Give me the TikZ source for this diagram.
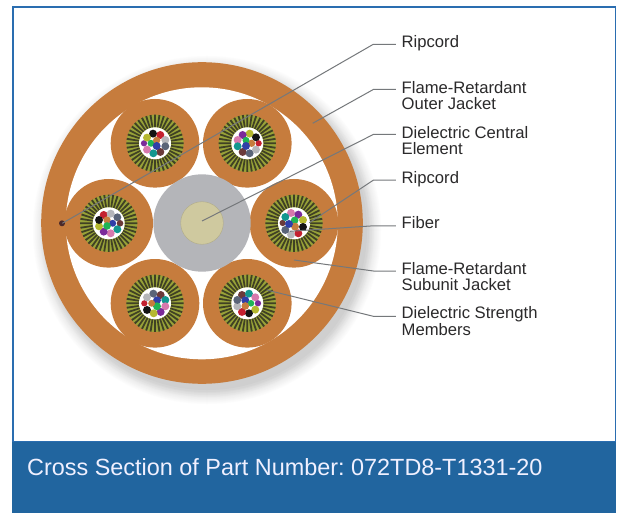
\documentclass[tikz,border=0pt]{standalone}
\usepackage{fontspec}
\setmainfont{Liberation Sans}
\usetikzlibrary{calc}
\definecolor{jacket}{HTML}{C67C3D}
\definecolor{panelblue}{HTML}{21659F}
\definecolor{edgeblue}{HTML}{2A6DB0}
\definecolor{leadergray}{HTML}{75787B}
\definecolor{labelink}{HTML}{2B2A2B}
\definecolor{olive}{HTML}{98A238}
\definecolor{strand}{HTML}{404124}
\definecolor{coregray}{HTML}{B4B5B9}
\definecolor{coretan}{HTML}{CFC99F}
\definecolor{fblack}{HTML}{141414}
\definecolor{fred}{HTML}{C4202F}
\definecolor{fgray}{HTML}{B5B6BA}
\definecolor{fslate}{HTML}{5A6478}
\definecolor{fbrown}{HTML}{6B3A3A}
\definecolor{fteal}{HTML}{12978F}
\definecolor{fpink}{HTML}{D779AD}
\definecolor{fpurple}{HTML}{7B2A9A}
\definecolor{fyellow}{HTML}{B5B82F}
\definecolor{fgreen}{HTML}{1FB455}
\definecolor{forange}{HTML}{C67C3D}
\definecolor{fblue}{HTML}{2F3FA8}
\tikzset{
  leader/.style={draw=leadergray,line width=1bp},
  partlabel/.style={font=\fontsize{16.7}{17}\selectfont,text=labelink,inner sep=0pt,anchor=north west,align=left},
  captionlabel/.style={font=\fontsize{23.5}{26}\selectfont,text=white!94!blue,inner sep=0pt,anchor=base west},
}
\newcommand{\cablesub}[3]{%
  \fill[jacket] (#1,#2) circle (44.3);
  \fill[olive] (#1,#2) circle (28.6);
  \foreach \a in {0,9,...,351}
    \fill[strand] ($(#1,#2)+(\a-1.9:28.6)$) -- ($(#1,#2)+(\a+1.9:28.6)$) -- ($(#1,#2)+(\a+2.9:16)$) -- ($(#1,#2)+(\a-2.9:16)$) -- cycle;
  \fill[white] (#1,#2) circle (16);
  \begin{scope}[shift={(#1,#2)},scale=1/3]
    \foreach \dx/\dy/\c/\r in {#3}
      \fill[\c] (\dx,\dy) circle ({\r+1.4});
  \end{scope}}
\begin{document}
\frenchspacing
\begin{tikzpicture}[x=1bp,y=-1bp]
\useasboundingbox (0,0) rectangle (619,513);
\fill[white] (0,0) rectangle (619,513);
% panel
\draw[edgeblue,line width=1.5bp] (12.8,6.8) rectangle (615.6,442);
\fill[panelblue] (12,441.7) rectangle (616.3,513);
% cable shadow: soft, falling to the lower right
\foreach \r/\g in {174/1,173/2,172/3,171/4,170/5,169/6,168/7,167/9,166/10,165/12,164/13,163/15,162/17,160/19}
  \fill[black!\g] (207,230) circle (\r);
\fill[jacket] (202,223) circle (160.8);
\fill[white] (201.8,223.3) circle (136);
\cablesub{155}{143.3}{-6/-29/fblack/10.5,16/-25/fred/10.5,31/-10/fgray/10.5,31/9/fslate/10.5,16/26/fbrown/10.5,-5/30/fteal/10.5,-24/19/fpink/10.5,-33/0/fpurple/8,-24/-17/fyellow/10.5,-12/0/fgreen/9,5/-9/forange/9.5,5/8/fblue/10.5}
\cablesub{247.3}{143.3}{7/-29/fyellow/10.5,-14/-25/fpurple/10.5,-29/-10/fpink/10.5,-29/9/fteal/10.5,-14/26/fbrown/10.5,7/30/fslate/10.5,26/19/fgray/10.5,34/0/fred/8,26/-18/fblack/10.5,13/0/forange/9.5,-4/-9/fgreen/9,-4/8/fblue/10.5}
\cablesub{108.7}{223.3}{-15/-25/fred/10.5,6/-29/fgray/10.5,26/-18/fslate/10.5,34/0/fbrown/8.5,26/18/fteal/10.5,6/30/fpink/10.5,-15/25/fpurple/10.5,-29/9/fyellow/10.5,-29/-10/fblack/10.5,-5/-10/forange/9.5,12/0/fblue/9,-5/8/fgreen/10}
\cablesub{294}{223.3}{-9/-31/fpink/10.5,13/-26/fpurple/10.5,27/-10/fyellow/10.5,27/11/fblack/10.5,13/30/fred/10.5,-9/34/fgray/10.5,-26/20/fslate/10.5,-34/-1/fbrown/8,-26/-19/fteal/10.5,2/-9/fgreen/10,3/10/forange/10.5,-15/2/fblue/10.5}
\cablesub{155}{303.3}{-5/-29/fslate/10.5,17/-25/fbrown/10.5,31/-10/fteal/10.5,31/9/fpink/10.5,17/26/fpurple/10.5,-4/30/fyellow/10.5,-24/20/fblack/10.5,-32/0/fred/8,-24/-18/fgray/10.5,6/-9/fblue/10.5,6/9/fgreen/10.5,-10/0/forange/9}
\cablesub{247.3}{303.3}{-16/-25/fbrown/10.5,5/-29/fteal/10.5,24/-18/fpink/10.5,32/0/fpurple/8,24/19/fyellow/10.5,5/30/fblack/10.5,-16/26/fred/10.5,-30/9/fgray/10.5,-30/-10/fslate/10.5,-6/-9/fblue/10.5,11/0/fgreen/8.5,-6/8/forange/10}
\fill[coregray] (202,223) circle (48.7);
\fill[coretan,draw=coretan!85!black,line width=0.4bp] (202,223) circle (21.3);
\fill[fbrown!70!black] (62,223.3) circle (3);
% labels
\node[partlabel] (l1) at (401.5,35.2) {Ripcord};
\node[partlabel] (l2) at (401.5,80.8) {Flame-Retardant\\Outer Jacket};
\node[partlabel] (l3) at (401.5,125.8) {Dielectric Central\\Element};
\node[partlabel] (l4) at (401.5,170.8) {Ripcord};
\node[partlabel] (l5) at (401.5,216.5) {Fiber};
\node[partlabel] (l6) at (401.5,261.8) {Flame-Retardant\\Subunit Jacket};
\node[partlabel] (l7) at (401.5,306.5) {Dielectric Strength\\Members};
\node[captionlabel] (cap) at (27,475) {Cross Section of Part Number: 072TD8-T1331-20};
% leaders
\coordinate (p1) at (62.3,223.3);
\coordinate (p2) at (312.7,123.3);
\coordinate (p3) at (202,221);
\coordinate (p4) at (309.3,222.7);
\coordinate (p5) at (290,231.3);
\coordinate (p6) at (294,260);
\coordinate (p7) at (266.7,290);
\draw[leader] (p1) -- ($(l1.north west)+(-28.2,9.1)$) -- ($(l1.north west)+(-5.6,9.1)$);
\draw[leader] (p2) -- ($(l2.north west)+(-28.2,8.7)$) -- ($(l2.north west)+(-5.6,8.7)$);
\draw[leader] (p3) -- ($(l3.north west)+(-28.2,8.7)$) -- ($(l3.north west)+(-5.6,8.7)$);
\draw[leader] (p4) -- ($(l4.north west)+(-28.2,9.4)$) -- ($(l4.north west)+(-5.6,9.4)$);
\draw[leader] (p5) -- ($(l5.north west)+(-28.2,9.3)$) -- ($(l5.north west)+(-5.6,9.3)$);
\draw[leader] (p6) -- ($(l6.north west)+(-28.2,9.2)$) -- ($(l6.north west)+(-5.6,9.2)$);
\draw[leader] (p7) -- ($(l7.north west)+(-28.2,9.8)$) -- ($(l7.north west)+(-5.6,9.8)$);
\end{tikzpicture}
\end{document}
